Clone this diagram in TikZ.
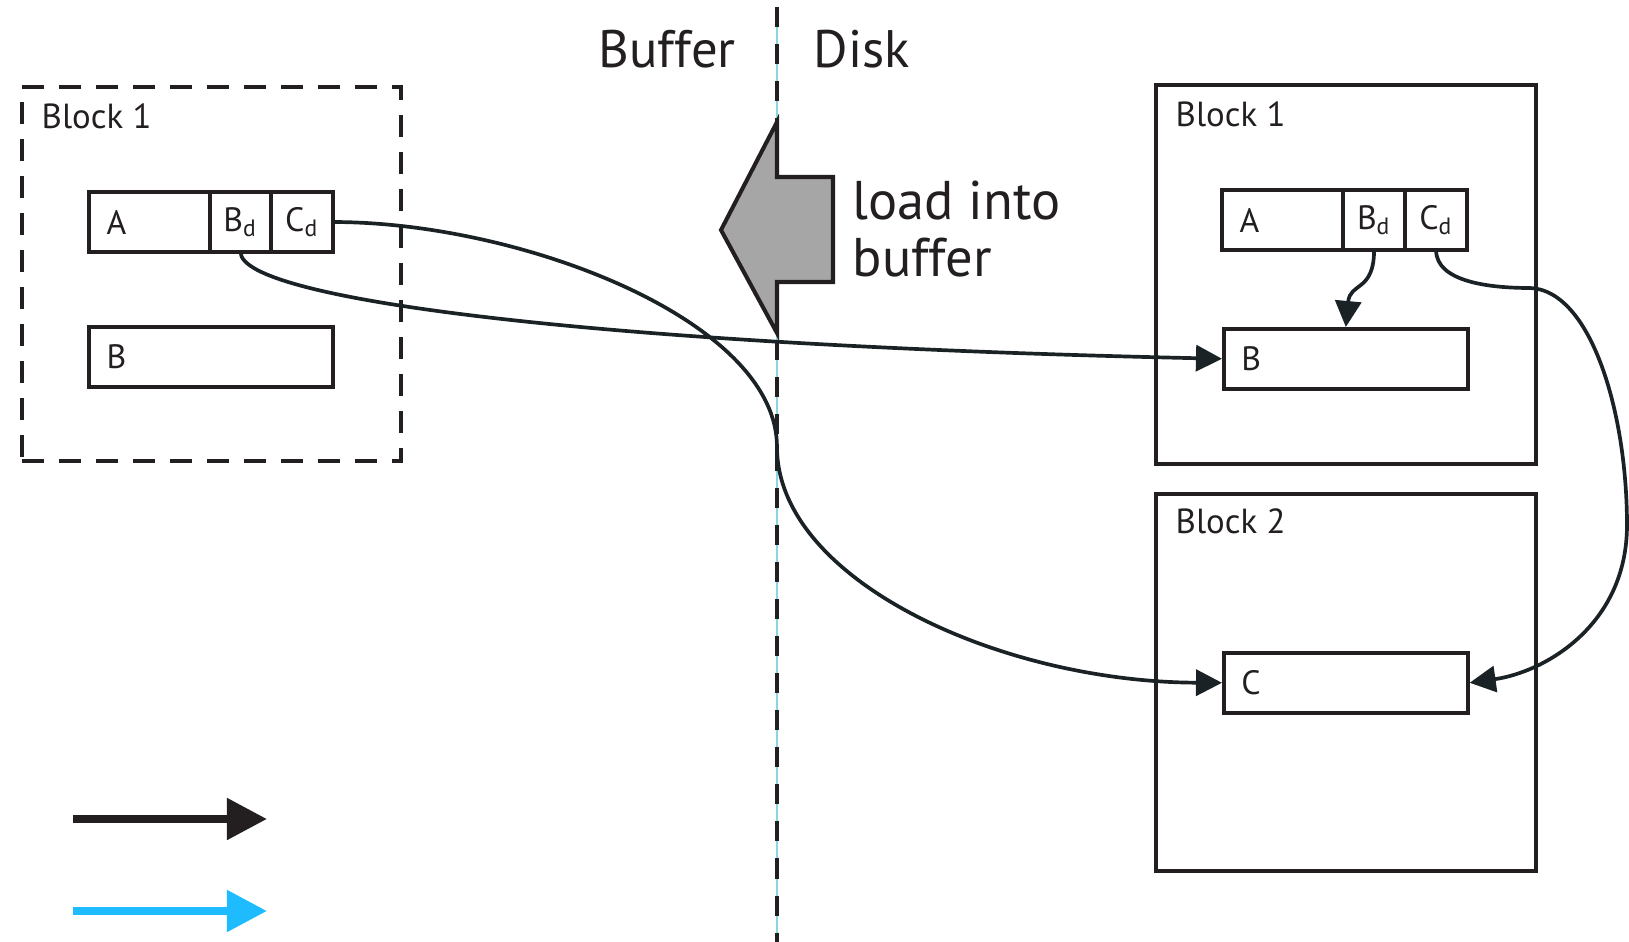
\documentclass[tikz,border=0pt]{standalone}
\usepackage{fontspec}
\setmainfont{PT Sans}
\usetikzlibrary{positioning,arrows.meta}

\definecolor{ink}{HTML}{231F20}
\definecolor{wire}{HTML}{1B2226}
\definecolor{shade}{HTML}{A6A6A6}
\definecolor{guide}{HTML}{8AD6E2}
\definecolor{sky}{HTML}{1EBBFF}

\tikzset{
  blockbox/.style={draw=ink, line width=1.15pt, anchor=north west, inner sep=0pt},
  blocktitle/.style={anchor=base west, inner sep=0pt, text=ink, font=\fontsize{9.9}{12}\selectfont},
  cell/.style={draw=ink, line width=1.15pt, minimum height=0.6cm, inner sep=0pt, outer sep=0pt,
    text=ink, font=\fontsize{9.6}{11}\selectfont},
  leftcell/.style={cell, minimum width=1.21cm, text width=0.86cm, align=left},
  widecell/.style={cell, minimum width=2.44cm, text width=2.09cm, align=left},
  smallcell/.style={cell, minimum width=0.62cm},
  sidetitle/.style={anchor=base west, inner sep=0pt, text=ink, font=\fontsize{15}{18}\selectfont},
  link/.style={draw=wire, line width=1.05pt, -{Triangle[length=2.6mm,width=2.6mm]}},
  keyarrow/.style={line width=2.3pt, -{Triangle[length=4mm,width=4mm]}}
}

\begin{document}
\begin{tikzpicture}[x=0.01cm, y=-0.01cm]
\useasboundingbox (0,0) rectangle (1629,942);

\coordinate (top) at (777,7);
\coordinate (bottom) at (777,942);
\draw[guide, line width=0.4pt] (top) -- (bottom);
\draw[ink, line width=1.15pt, dash pattern=on 2mm off 1.7mm] (top) -- (bottom);

\node[sidetitle] (buffer) at (598,67) {Buffer};
\node[sidetitle] (disk) at (813,67) {Disk};

\node[blockbox, dash pattern=on 2.2mm off 1.5mm, minimum width=3.79cm, minimum height=3.74cm] (cache) at (20,85) {};
\node[blocktitle] (cachetitle) at (41,128) {Block 1};
\node[leftcell, anchor=north west] (lA) at (89,192) {A};
\node[smallcell, minimum width=0.61cm, right=0pt of lA] (lBd) {B\textsubscript{d}};
\node[smallcell, right=0pt of lBd] (lCd) {C\textsubscript{d}};
\node[widecell, anchor=north west] (lB) at (89,327) {B};

\node[blockbox, minimum width=3.8cm, minimum height=3.79cm] (one) at (1154,83) {};
\node[blocktitle] (onetitle) at (1175,126) {Block 1};
\node[leftcell, anchor=north west] (rA) at (1222,190) {A};
\node[smallcell, right=0pt of rA] (rBd) {B\textsubscript{d}};
\node[smallcell, right=0pt of rBd] (rCd) {C\textsubscript{d}};
\node[widecell, anchor=north west, outer sep=0.5pt] (rB) at (1222,327) {B};

\node[blockbox, minimum width=3.8cm, minimum height=3.77cm] (two) at (1154,492) {};
\node[blocktitle] (twotitle) at (1175,533) {Block 2};
\node[widecell, anchor=north west, outer sep=0.5pt] (rC) at (1222,651) {C};

\draw[ink, fill=shade, line width=1.15pt, line join=miter]
  (777,122) -- (777,177) -- (833,177) -- (833,282) -- (777,282) -- (777,333) -- (721,230) -- cycle;
\node[sidetitle, anchor=north west, align=left, font=\fontsize{15.5}{16.2}\selectfont] (load) at (852,180) {load into\\buffer};

\coordinate (cross) at (777,447);
\draw[link] (lBd.south) .. controls (240,300) and (600,345) .. (rB.west);
\draw[link] (lCd.east) .. controls (520,222) and (777,320) .. (cross)
  .. controls (777,580) and (1000,682) .. (rC.west);
\draw[link] (rBd.south) .. controls (1374,292) and (1350,282) .. (rB.north);
\coordinate (bend) at (1530,288);
\coordinate (edge) at (1627,525);
\draw[link] (rCd.south) .. controls (1436,282) and (1490,288) .. (bend)
  .. controls (1590,290) and (1627,410) .. (edge)
  .. controls (1627,625) and (1545,672) .. (rC.east);

\coordinate (k0) at (73,819);
\coordinate (k1) at (267,819);
\coordinate (k2) at (73,911);
\coordinate (k3) at (267,911);
\draw[keyarrow, ink] (k0) -- (k1);
\draw[keyarrow, sky] (k2) -- (k3);
\end{tikzpicture}
\end{document}
